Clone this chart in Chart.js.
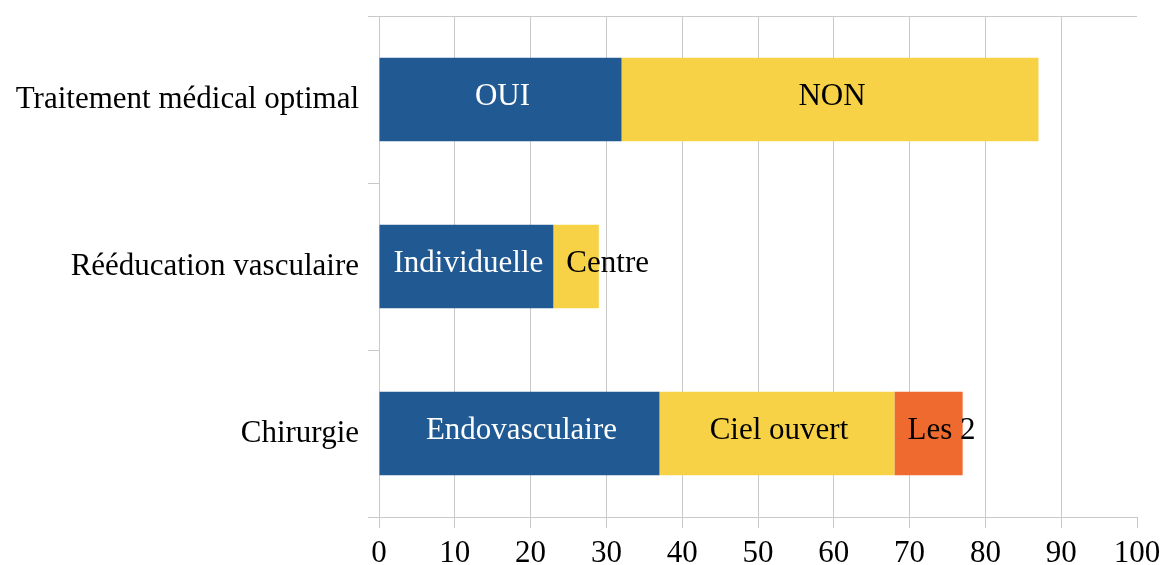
<!DOCTYPE html>
<html>
<head>
<meta charset="utf-8">
<script src="https://cdn.jsdelivr.net/npm/chart.js@4"></script>
<style>
	html, body { margin: 0; padding: 0; background: #fff; }
	#wrap { width: 1162px; height: 565px; }
</style>
</head>
<body>
<div id="wrap"><canvas id="myChart"></canvas></div>
<script>
//setup
const categories = ["Traitement médical optimal", "Rééducation vasculaire", "Chirurgie"];
const blueVals = [32, 23, 37];
const yellowVals = [55, 6, 31];
const orangeVals = [0, 0, 9];
const blueLabels = ["OUI", "Individuelle", "Endovasculaire"];
const yellowLabels = ["NON", "Centre", "Ciel ouvert"];
const orangeLabels = ["", "", "Les 2"];
const xTicks = [0, 10, 20, 30, 40, 50, 60, 70, 80, 90, 100];

const gridGray = "#c9c9c9";
const serif = "'Liberation Serif', 'Times New Roman', serif";

const data = {
	labels: categories,
	datasets: [
		{ data: blueVals, segLabels: blueLabels, backgroundColor: "#215a93", textColor: "#ffffff" },
		{ data: yellowVals, segLabels: yellowLabels, backgroundColor: "#f7d247", textColor: "#000000" },
		{ data: orangeVals, segLabels: orangeLabels, backgroundColor: "#ee6a2f", textColor: "#000000" },
	],
};

//segment labels (centered, or pushed to the right when the segment is too short)
const segLabels = {
	id: "segLabels",
	afterDatasetsDraw(chart) {
		const { ctx } = chart;
		ctx.save();
		ctx.font = "31px " + serif;
		ctx.textBaseline = "middle";
		chart.data.datasets.forEach((ds, di) => {
			chart.getDatasetMeta(di).data.forEach((bar, i) => {
				const txt = ds.segLabels[i];
				if (!txt) return;
				const start = Math.min(bar.base, bar.x);
				const end = Math.max(bar.base, bar.x);
				const w = ctx.measureText(txt).width;
				ctx.fillStyle = ds.textColor;
				if (w > end - start - 10) {
					ctx.textAlign = "left";
					ctx.fillText(txt, start + 13, bar.y - 3);
				} else {
					ctx.textAlign = "center";
					ctx.fillText(txt, (start + end) / 2 + 2, bar.y - 3);
				}
			});
		});
		ctx.restore();
	},
};

//config
const config = {
	type: "bar",
	data,
	options: {
		indexAxis: "y",
		responsive: true,
		maintainAspectRatio: false,
		animation: false,
		layout: { padding: { top: 16, right: 25, left: 0, bottom: 0 } },
		datasets: { bar: { categoryPercentage: 1, barPercentage: 0.5, borderWidth: 0 } },
		scales: {
			x: {
				stacked: true,
				min: 0,
				max: 100,
				afterBuildTicks: (s) => { s.ticks = xTicks.map((v) => ({ value: v })); },
				afterFit: (s) => {
					s.height = 48;
					s.paddingLeft = 0;
					s.paddingRight = 0;
				},
				ticks: { color: "#000", padding: 10, font: { family: serif, size: 31, lineHeight: 1 } },
				grid: {
					color: (c) => (c.tick && c.tick.value === 100 ? "rgba(0,0,0,0)" : gridGray),
					tickColor: gridGray,
					tickLength: 11,
				},
				border: { color: gridGray },
			},
			y: {
				stacked: true,
				afterFit: (s) => {
					s.width = 379;
					s.paddingTop = 0;
					s.paddingBottom = 0;
				},
				ticks: { color: "#000", padding: 9, font: { family: serif, size: 31 } },
				grid: {
					offset: true,
					color: (c) => (c.index === 0 || c.index === categories.length ? gridGray : "rgba(0,0,0,0)"),
					tickColor: gridGray,
					tickLength: 11,
				},
				border: { color: gridGray },
			},
		},
		plugins: {
			legend: { display: false },
			tooltip: { enabled: false },
		},
	},
	plugins: [segLabels],
};

//render
const myChart = new Chart(document.getElementById("myChart"), config);
</script>
</body>
</html>
